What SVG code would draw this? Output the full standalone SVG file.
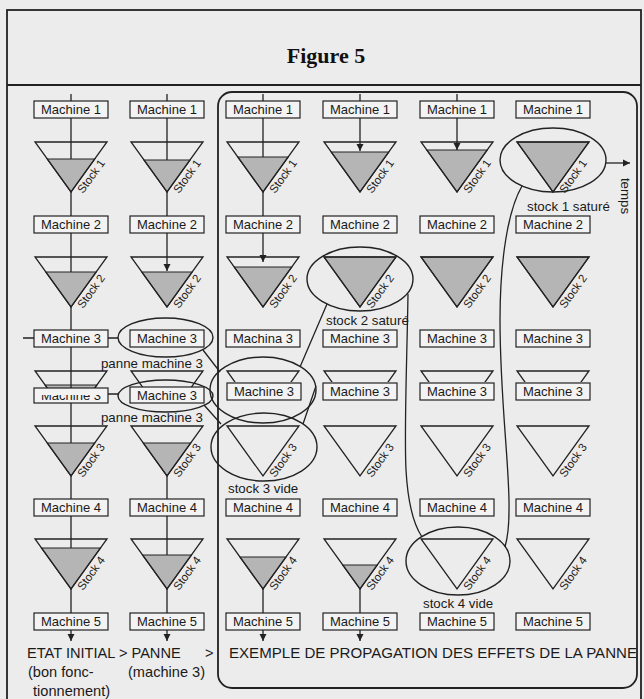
<svg xmlns="http://www.w3.org/2000/svg" xmlns:xlink="http://www.w3.org/1999/xlink" width="644" height="699" viewBox="0 0 644 699">
<style>
.bx{fill:#f3f3f3;stroke:#222;stroke-width:1.2}
.tx{font-family:"Liberation Sans",Arial,sans-serif;font-size:13px;fill:#1a1a1a;text-anchor:middle}
.tri{fill:none;stroke:#222;stroke-width:1.3}
.lvl{fill:#b5b5b5;stroke:#222;stroke-width:1.1}
.st{font-family:"Liberation Sans",Arial,sans-serif;font-size:11.5px;fill:#1a1a1a}
.el{fill:none;stroke:#222;stroke-width:1.4}
.ln{stroke:#222;stroke-width:1.3;fill:none}
.lb{font-family:"Liberation Sans",Arial,sans-serif;font-size:13.3px;fill:#1a1a1a}
.big{font-family:"Liberation Sans",Arial,sans-serif;font-size:14.6px;fill:#1a1a1a}
.frm{fill:none;stroke:#222;stroke-width:1.8}
</style>
<defs>
<polygon id="tri" points="-36,0 36,0 0,50"/>
<marker id="ah" markerWidth="9" markerHeight="9" refX="7" refY="4" orient="auto" markerUnits="userSpaceOnUse"><path d="M0,0.5 L7,4 L0,7.5 Z" fill="#222"/></marker>
<clipPath id="cr12"><rect x="0" y="360" width="215" height="28"/></clipPath>
<clipPath id="cr36"><rect x="215" y="360" width="400" height="22"/></clipPath>
<clipPath id="ct1"><rect x="0" y="395" width="120" height="20"/></clipPath>
<clipPath id="ct2"><rect x="120" y="391" width="100" height="20"/></clipPath>
</defs>
<rect x="0" y="0" width="644" height="699" fill="#ececec"/>
<g id="frame">
<rect class="frm" x="7" y="10" width="634" height="700"/>
<line class="frm" x1="7" y1="85" x2="641" y2="85"/>
<rect class="frm" x="218" y="92" width="419" height="596" rx="14"/>
<text x="326" y="63" font-family="Liberation Serif,serif" font-weight="bold" font-size="22" text-anchor="middle" fill="#111">Figure 5</text>
</g>
<g id="stock-fills">
<polygon class="lvl" points="47.24,159 94.76,159 71,192"/>
<polygon class="lvl" points="143.96,160 190.04,160 167,192"/>
<polygon class="lvl" points="237.8,157 288.2,157 263,192"/>
<polygon class="lvl" points="331.2,152 388.8,152 360,192"/>
<polygon class="lvl" points="426.76,150 487.24,150 457,192"/>
<polygon class="lvl" points="517,142 589,142 553,192"/>
<polygon class="lvl" points="45.8,272 96.2,272 71,307"/>
<polygon class="lvl" points="141.8,272 192.2,272 167,307"/>
<polygon class="lvl" points="234.2,267 291.8,267 263,307"/>
<polygon class="lvl" points="324,257 396,257 360,307"/>
<polygon class="lvl" points="421,257 493,257 457,307"/>
<polygon class="lvl" points="517,257 589,257 553,307"/>
<polygon class="lvl" points="47.24,443 94.76,443 71,476"/>
<polygon class="lvl" points="143.24,443 190.76,443 167,476"/>
<polygon class="lvl" points="41.48,548 100.52,548 71,589"/>
<polygon class="lvl" points="142.52,555 191.48,555 167,589"/>
<polygon class="lvl" points="239.96,557 286.04,557 263,589"/>
<polygon class="lvl" points="342.72,565 377.28,565 360,589"/>
<polygon class="lvl" points="45.08,385 96.92,385 71,421" clip-path="url(#cr12)"/>
</g>
<g id="stocks">
<use href="#tri" class="tri" x="71" y="142"/><use href="#tri" class="tri" x="167" y="142"/><use href="#tri" class="tri" x="263" y="142"/><use href="#tri" class="tri" x="360" y="142"/><use href="#tri" class="tri" x="457" y="142"/><use href="#tri" class="tri" x="553" y="142"/>
<use href="#tri" class="tri" x="71" y="257"/><use href="#tri" class="tri" x="167" y="257"/><use href="#tri" class="tri" x="263" y="257"/><use href="#tri" class="tri" x="360" y="257"/><use href="#tri" class="tri" x="457" y="257"/><use href="#tri" class="tri" x="553" y="257"/>
<g clip-path="url(#cr12)"><use href="#tri" class="tri" x="71" y="371"/><use href="#tri" class="tri" x="167" y="371"/></g>
<g clip-path="url(#cr36)"><use href="#tri" class="tri" x="263" y="371"/><use href="#tri" class="tri" x="360" y="371"/><use href="#tri" class="tri" x="457" y="371"/><use href="#tri" class="tri" x="553" y="371"/></g>
<use href="#tri" class="tri" x="71" y="426"/><use href="#tri" class="tri" x="167" y="426"/><use href="#tri" class="tri" x="263" y="426"/><use href="#tri" class="tri" x="360" y="426"/><use href="#tri" class="tri" x="457" y="426"/><use href="#tri" class="tri" x="553" y="426"/>
<use href="#tri" class="tri" x="71" y="539"/><use href="#tri" class="tri" x="167" y="539"/><use href="#tri" class="tri" x="263" y="539"/><use href="#tri" class="tri" x="360" y="539"/><use href="#tri" class="tri" x="457" y="539"/><use href="#tri" class="tri" x="553" y="539"/>
<text class="st" transform="translate(83,194) rotate(-54)">Stock 1</text><text class="st" transform="translate(179,194) rotate(-54)">Stock 1</text><text class="st" transform="translate(275,194) rotate(-54)">Stock 1</text><text class="st" transform="translate(372,194) rotate(-54)">Stock 1</text><text class="st" transform="translate(469,194) rotate(-54)">Stock 1</text><text class="st" transform="translate(565,194) rotate(-54)">Stock 1</text>
<text class="st" transform="translate(83,309) rotate(-54)">Stock 2</text><text class="st" transform="translate(179,309) rotate(-54)">Stock 2</text><text class="st" transform="translate(275,309) rotate(-54)">Stock 2</text><text class="st" transform="translate(372,309) rotate(-54)">Stock 2</text><text class="st" transform="translate(469,309) rotate(-54)">Stock 2</text><text class="st" transform="translate(565,309) rotate(-54)">Stock 2</text>
<text class="st" transform="translate(83,478) rotate(-54)">Stock 3</text><text class="st" transform="translate(179,478) rotate(-54)">Stock 3</text><text class="st" transform="translate(275,478) rotate(-54)">Stock 3</text><text class="st" transform="translate(372,478) rotate(-54)">Stock 3</text><text class="st" transform="translate(469,478) rotate(-54)">Stock 3</text><text class="st" transform="translate(565,478) rotate(-54)">Stock 3</text>
<text class="st" transform="translate(83,591) rotate(-54)">Stock 4</text><text class="st" transform="translate(179,591) rotate(-54)">Stock 4</text><text class="st" transform="translate(275,591) rotate(-54)">Stock 4</text><text class="st" transform="translate(372,591) rotate(-54)">Stock 4</text><text class="st" transform="translate(469,591) rotate(-54)">Stock 4</text><text class="st" transform="translate(565,591) rotate(-54)">Stock 4</text>
</g>
<g id="machines">
<rect class="bx" x="34" y="101" width="74" height="17"/><text class="tx" x="71" y="114">Machine 1</text>
<rect class="bx" x="130" y="101" width="74" height="17"/><text class="tx" x="167" y="114">Machine 1</text>
<rect class="bx" x="226" y="101" width="74" height="17"/><text class="tx" x="263" y="114">Machine 1</text>
<rect class="bx" x="323" y="101" width="74" height="17"/><text class="tx" x="360" y="114">Machine 1</text>
<rect class="bx" x="420" y="101" width="74" height="17"/><text class="tx" x="457" y="114">Machine 1</text>
<rect class="bx" x="516" y="101" width="74" height="17"/><text class="tx" x="553" y="114">Machine 1</text>
<rect class="bx" x="34" y="216" width="74" height="17"/><text class="tx" x="71" y="229">Machine 2</text>
<rect class="bx" x="130" y="216" width="74" height="17"/><text class="tx" x="167" y="229">Machine 2</text>
<rect class="bx" x="226" y="216" width="74" height="17"/><text class="tx" x="263" y="229">Machine 2</text>
<rect class="bx" x="323" y="216" width="74" height="17"/><text class="tx" x="360" y="229">Machine 2</text>
<rect class="bx" x="420" y="216" width="74" height="17"/><text class="tx" x="457" y="229">Machine 2</text>
<rect class="bx" x="516" y="216" width="74" height="17"/><text class="tx" x="553" y="229">Machine 2</text>
<rect class="bx" x="34" y="330" width="74" height="17"/><text class="tx" x="71" y="343">Machine 3</text>
<rect class="bx" x="130" y="330" width="74" height="17"/><text class="tx" x="167" y="343">Machine 3</text>
<rect class="bx" x="226" y="330" width="74" height="17"/><text class="tx" x="263" y="343">Machina 3</text>
<rect class="bx" x="323" y="330" width="74" height="17"/><text class="tx" x="360" y="343">Machine 3</text>
<rect class="bx" x="420" y="330" width="74" height="17"/><text class="tx" x="457" y="343">Machine 3</text>
<rect class="bx" x="516" y="330" width="74" height="17"/><text class="tx" x="553" y="343">Machine 3</text>
<rect class="bx" x="34" y="388" width="74" height="15"/><text class="tx" x="71" y="400" clip-path="url(#ct1)">Machine 3</text>
<rect class="bx" x="130" y="387" width="74" height="16"/><text class="tx" x="167" y="400" clip-path="url(#ct2)">Machine 3</text>
<rect class="bx" x="227" y="383" width="74" height="17"/><text class="tx" x="264" y="396">Machine 3</text>
<rect class="bx" x="323" y="383" width="74" height="17"/><text class="tx" x="360" y="396">Machine 3</text>
<rect class="bx" x="420" y="383" width="74" height="17"/><text class="tx" x="457" y="396">Machine 3</text>
<rect class="bx" x="516" y="383" width="74" height="17"/><text class="tx" x="553" y="396">Machine 3</text>
<rect class="bx" x="34" y="499" width="74" height="17"/><text class="tx" x="71" y="512">Machine 4</text>
<rect class="bx" x="130" y="499" width="74" height="17"/><text class="tx" x="167" y="512">Machine 4</text>
<rect class="bx" x="226" y="499" width="74" height="17"/><text class="tx" x="263" y="512">Machine 4</text>
<rect class="bx" x="323" y="499" width="74" height="17"/><text class="tx" x="360" y="512">Machine 4</text>
<rect class="bx" x="420" y="499" width="74" height="17"/><text class="tx" x="457" y="512">Machine 4</text>
<rect class="bx" x="516" y="499" width="74" height="17"/><text class="tx" x="553" y="512">Machine 4</text>
<rect class="bx" x="34" y="613" width="74" height="17"/><text class="tx" x="71" y="626">Machine 5</text>
<rect class="bx" x="130" y="613" width="74" height="17"/><text class="tx" x="167" y="626">Machine 5</text>
<rect class="bx" x="226" y="613" width="74" height="17"/><text class="tx" x="263" y="626">Machine 5</text>
<rect class="bx" x="323" y="613" width="74" height="17"/><text class="tx" x="360" y="626">Machine 5</text>
<rect class="bx" x="420" y="613" width="74" height="17"/><text class="tx" x="457" y="626">Machine 5</text>
<rect class="bx" x="516" y="613" width="74" height="17"/><text class="tx" x="553" y="626">Machine 5</text>
</g>
<g id="highlights">
<ellipse class="el" cx="165.5" cy="337.5" rx="47.5" ry="19.5"/>
<ellipse class="el" cx="165.5" cy="396" rx="47.5" ry="16"/>
<ellipse class="el" cx="263" cy="390" rx="53" ry="33"/>
<ellipse class="el" cx="264" cy="447" rx="53" ry="34"/>
<ellipse class="el" cx="360" cy="279" rx="53" ry="32"/>
<ellipse class="el" cx="458" cy="561" rx="52" ry="34"/>
<ellipse class="el" cx="553" cy="160" rx="53" ry="32"/>
<text class="lb" x="203" y="368" text-anchor="end">panne machine 3</text>
<text class="lb" x="203" y="422" text-anchor="end">panne machine 3</text>
<text class="lb" x="326" y="325">stock 2 saturé</text>
<text class="lb" x="228" y="493">stock 3 vide</text>
<text class="lb" x="423" y="608">stock 4 vide</text>
<text class="lb" x="527" y="211">stock 1 saturé</text>
<text class="lb" font-size="13.5" transform="translate(621,196) rotate(90)" text-anchor="middle">temps</text>
</g>
<g id="connectors">
<path class="ln" d="M71,94V101 M167,94V101 M263,94V101 M360,94V101 M457,94V101"/>
<path class="ln" d="M71,118V159 M71,192V216 M71,233V272 M71,307V330 M71,347V388 M71,403V443 M71,476V499 M71,516V548 M71,589V613"/>
<line class="ln" x1="71" y1="630" x2="71" y2="641" marker-end="url(#ah)"/>
<path class="ln" d="M167,118V160 M167,192V216 M167,476V499 M167,516V555 M167,589V613"/>
<line class="ln" x1="167" y1="233" x2="167" y2="271" marker-end="url(#ah)"/>
<line class="ln" x1="167" y1="630" x2="167" y2="641" marker-end="url(#ah)"/>
<path class="ln" d="M263,118V157 M263,192V216 M263,589V613"/>
<line class="ln" x1="263" y1="233" x2="263" y2="262" marker-end="url(#ah)"/>
<line class="ln" x1="263" y1="630" x2="263" y2="641" marker-end="url(#ah)"/>
<line class="ln" x1="360" y1="118" x2="360" y2="151" marker-end="url(#ah)"/>
<path class="ln" d="M360,589V613"/>
<line class="ln" x1="360" y1="630" x2="360" y2="641" marker-end="url(#ah)"/>
<line class="ln" x1="457" y1="118" x2="457" y2="150" marker-end="url(#ah)"/>
<path class="ln" d="M23,338H34 M108,338H118 M108,394H118"/>
<path class="ln" d="M203,350L220,372 M204,405L221,424 M300,367L327,304 M316,386L303,424"/>
<path class="ln" d="M408,294C407,360 404,430 406,470C408,505 414,525 422,537"/>
<path class="ln" d="M522,186C508,210 500,260 500,320C500,400 510,470 509,510C509,530 507,540 505,547"/>
<line class="ln" x1="606" y1="163" x2="630" y2="163" marker-end="url(#ah)"/>
</g>
<g id="captions">
<text class="big" x="27" y="658">ETAT INITIAL &gt; PANNE</text>
<text class="big" x="205" y="658">&gt;</text>
<text class="big" x="28" y="677">(bon fonc-</text>
<text class="big" x="128" y="677">(machine 3)</text>
<text class="big" x="33" y="696">tionnement)</text>
<text class="big" x="229" y="658" textLength="408" lengthAdjust="spacingAndGlyphs">EXEMPLE DE PROPAGATION DES EFFETS DE LA PANNE</text>
</g>
</svg>
